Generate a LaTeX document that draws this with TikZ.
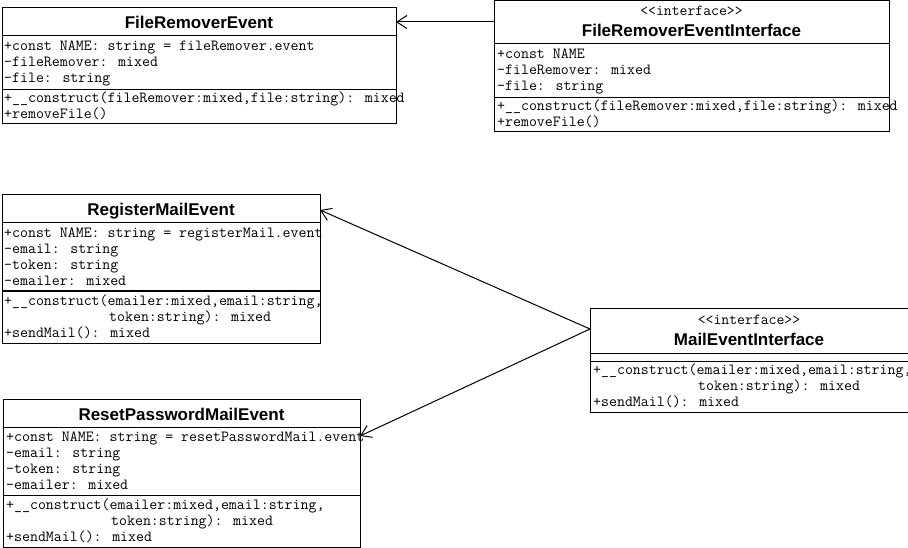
\documentclass[tikz,border=0pt]{standalone}
\usepackage{fontspec}
\setmainfont{Liberation Sans}
\usetikzlibrary{arrows.meta}

\tikzset{
  classbox/.style={draw=black, line width=1pt, fill=white, inner sep=0pt, outer sep=0pt, anchor=north west},
  sepline/.style={draw=black, line width=1pt},
  ctitle/.style={inner sep=0pt, anchor=base, font=\fontsize{17}{20}\selectfont\bfseries},
  stereo/.style={inner sep=0pt, anchor=base, font=\ttfamily\fontsize{15.3}{16}\selectfont},
  member/.style={inner sep=0pt, anchor=base west, font=\ttfamily\fontsize{15.45}{16}\selectfont},
  realize/.style={draw=black, line width=1pt, -{Straight Barb[length=10pt,width=13pt,line width=1pt]}}
}

\begin{document}
\begin{tikzpicture}[x=1pt, y=-1pt]
\useasboundingbox (0,0) rectangle (908,548);
\fill[white] (0,0) rectangle (908,548);

% ---------- FileRemoverEvent ----------
\node[classbox, minimum width=394pt, minimum height=116pt] (fre) at (2,8) {};
\draw[sepline] (2,36) -- (396,36);
\draw[sepline] (2,90) -- (396,90);
\node[ctitle] (freT) at (199,29) {FileRemoverEvent};
\node[member] (freA1) at (4,50.5) {+const NAME: string = fileRemover.event};
\node[member] (freA2) at (4,66.5) {-fileRemover: mixed};
\node[member] (freA3) at (4,82.5) {-file: string};
\node[member] (freM1) at (4,103) {+\_\_construct(fileRemover:mixed,file:string): mixed};
\node[member] (freM2) at (4,118.5) {+removeFile()};

% ---------- FileRemoverEventInterface ----------
\node[classbox, minimum width=395pt, minimum height=131pt] (frei) at (494,1) {};
\draw[sepline] (494,44) -- (889,44);
\draw[sepline] (494,98) -- (889,98);
\node[stereo] (freiS) at (691.5,16) {<<interface>>};
\node[ctitle] (freiT) at (691.5,37) {FileRemoverEventInterface};
\node[member] (freiA1) at (497,58.5) {+const NAME};
\node[member] (freiA2) at (497,74.5) {-fileRemover: mixed};
\node[member] (freiA3) at (497,90.5) {-file: string};
\node[member] (freiM1) at (497,111) {+\_\_construct(fileRemover:mixed,file:string): mixed};
\node[member] (freiM2) at (497,126.5) {+removeFile()};

% ---------- RegisterMailEvent ----------
\node[classbox, minimum width=318pt, minimum height=148pt] (rme) at (2,195) {};
\draw[sepline] (2,223) -- (320,223);
\draw[sepline] (2,291) -- (320,291);
\node[ctitle] (rmeT) at (161,216) {RegisterMailEvent};
\node[member] (rmeA1) at (4,237.5) {+const NAME: string = registerMail.event};
\node[member] (rmeA2) at (4,253.5) {-email: string};
\node[member] (rmeA3) at (4,269.5) {-token: string};
\node[member] (rmeA4) at (4,285.5) {-emailer: mixed};
\node[member] (rmeM1) at (4,305.5) {+\_\_construct(emailer:mixed,email:string,};
\node[member] (rmeM1b) at (109,321.5) {token:string): mixed};
\node[member] (rmeM2) at (4,337.5) {+sendMail(): mixed};

% ---------- ResetPasswordMailEvent ----------
\node[classbox, minimum width=357pt, minimum height=148pt] (rpme) at (3,399) {};
\draw[sepline] (3,427) -- (360,427);
\draw[sepline] (3,495) -- (360,495);
\node[ctitle] (rpmeT) at (181.5,420) {ResetPasswordMailEvent};
\node[member] (rpmeA1) at (6,441.5) {+const NAME: string = resetPasswordMail.event};
\node[member] (rpmeA2) at (6,457.5) {-email: string};
\node[member] (rpmeA3) at (6,473.5) {-token: string};
\node[member] (rpmeA4) at (6,489.5) {-emailer: mixed};
\node[member] (rpmeM1) at (6,509.5) {+\_\_construct(emailer:mixed,email:string,};
\node[member] (rpmeM1b) at (111,525.5) {token:string): mixed};
\node[member] (rpmeM2) at (6,541.5) {+sendMail(): mixed};

% ---------- MailEventInterface ----------
\node[classbox, minimum width=319pt, minimum height=104pt] (mei) at (590,308) {};
\draw[sepline] (590,353) -- (909,353);
\draw[sepline] (590,361) -- (909,361);
\node[stereo] (meiS) at (749,324) {<<interface>>};
\node[ctitle] (meiT) at (749,345) {MailEventInterface};
\node[member] (meiM1) at (593,374.5) {+\_\_construct(emailer:mixed,email:string,};
\node[member] (meiM1b) at (698,390.5) {token:string): mixed};
\node[member] (meiM2) at (593,406.5) {+sendMail(): mixed};

% ---------- realization connectors ----------
\coordinate (freiOut) at (494,22);
\coordinate (freIn)   at (396,22);
\coordinate (meiOut)  at (590,329);
\coordinate (rmeIn)   at (320,210);
\coordinate (rpmeIn)  at (360,436);
\draw[realize] (freiOut) -- (freIn);
\draw[realize] (meiOut) -- (rmeIn);
\draw[realize] (meiOut) -- (rpmeIn);
\end{tikzpicture}
\end{document}
